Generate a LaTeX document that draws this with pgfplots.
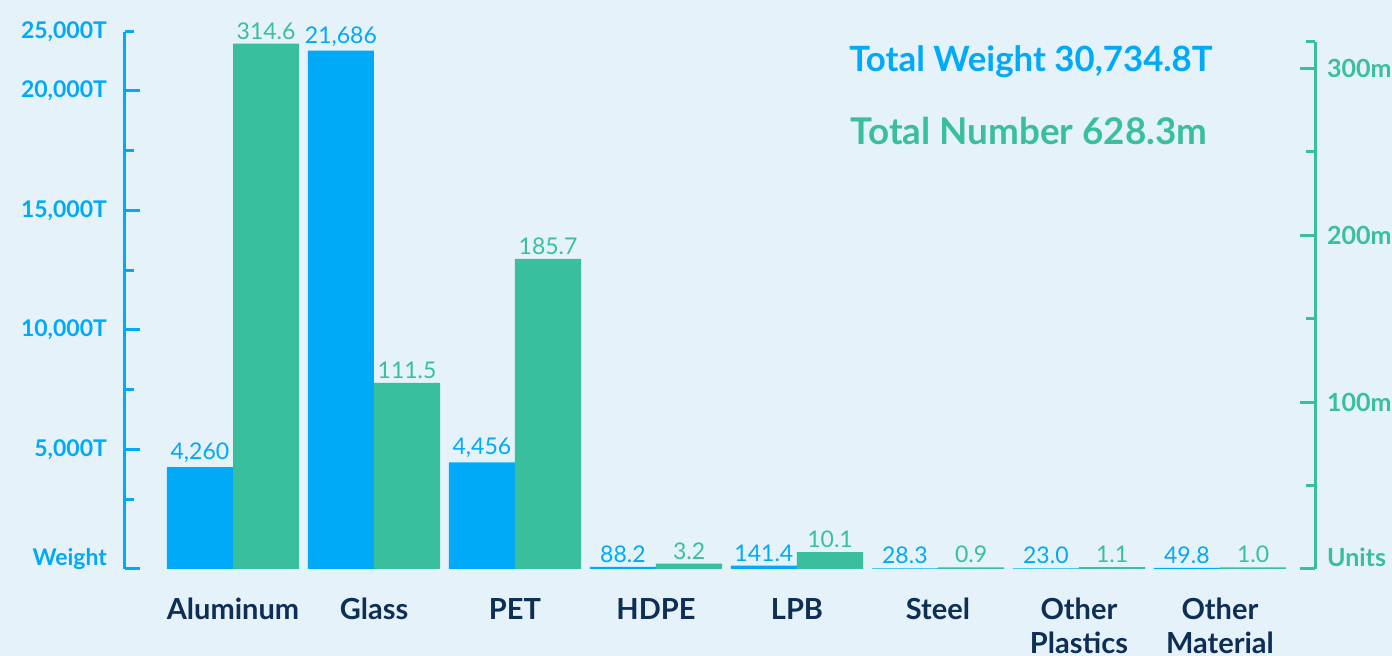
\documentclass[border=0pt]{standalone}
\usepackage{pgfplots}
\pgfplotsset{compat=1.18}
\usepackage{pgfplotstable}
\usepackage{fontspec}
\setmainfont{Lato}
\definecolor{bg}{HTML}{E6F2FA}
\definecolor{wblue}{HTML}{00AAF8}
\definecolor{ngreen}{HTML}{3ABF9C}
\definecolor{navy}{HTML}{0E2F55}

\pgfplotstableread{
x y label
0 4260 {4,260}
1 21686 {21,686}
2 4456 {4,456}
3 88.2 88.2
4 141.4 141.4
5 28.3 28.3
6 23.0 23.0
7 49.8 49.8
}\wtab

\pgfplotstableread{
x y label
0 314.6 314.6
1 111.5 111.5
2 185.7 185.7
3 3.2 3.2
4 10.1 10.1
5 0.9 0.9
6 1.1 1.1
7 1.0 1.0
}\ntab

\pgfplotsset{
  common/.style={
    at={(62.5pt,43.5pt)}, anchor=south west,
    scale only axis, width=595pt,
    xmin=-0.766, xmax=7.674, ymin=0,
    clip=false, scaled y ticks=false,
  },
  lefty/.style={height=268.5pt, ymax=22469},
  righty/.style={height=263.5pt, ymax=315.6},
}

\begin{document}
\begin{tikzpicture}
\path[use as bounding box, fill=bg] (0,0) rectangle (696pt,328pt);

% left axis with blue bars
\begin{axis}[
  common, lefty,
  axis y line*=left, axis x line*=bottom,
  x axis line style={draw=none},
  y axis line style={wblue, line width=1.5pt},
  xtick={0,...,7},
  xticklabels={Aluminum,Glass,PET,HDPE,LPB,Steel,{Other\\Plastics},{Other\\Material}},
  xticklabel style={align=center, text=navy, font=\bfseries\fontsize{14.5}{17}\selectfont, anchor=north, yshift=-11pt},
  x tick style={draw=none},
  tick align=inside,
  major tick length=7.5pt, minor tick length=4.5pt,
  ytick={0,5000,10000,15000,20000},
  yticklabels={{\raisebox{12pt}{Weight}},{5{,}000T},{10{,}000T},{15{,}000T},{20{,}000T}},
  minor ytick={2890,7500,12500,17500},
  extra y ticks={22469}, extra y tick labels={25{,}000T},
  extra y tick style={major tick length=4.5pt},
  ytick style={wblue, line width=1.5pt},
  yticklabel style={text=wblue, font=\bfseries\fontsize{11.5}{13}\selectfont, xshift=-5.5pt},
]
\addplot[ybar, bar width=33.1pt, bar shift=-16.55pt, fill=wblue, draw=none]
  table[x=x, y=y]{\wtab};
\end{axis}

% right axis with green bars and labels
\begin{axis}[
  common, righty,
  axis y line*=right, axis x line=none,
  y axis line style={ngreen, line width=1.5pt},
  tick align=inside,
  major tick length=7.5pt, minor tick length=4.5pt,
  ytick={0,100,200,300},
  yticklabels={{\raisebox{12pt}{Units}},100m,200m,300m},
  minor ytick={50,150,250},
  extra y ticks={315.6}, extra y tick labels={},
  extra y tick style={major tick length=4.5pt},
  ytick style={ngreen, line width=1.5pt},
  yticklabel style={text=ngreen, font=\bfseries\fontsize{12.5}{14}\selectfont, xshift=2.5pt},
]
\addplot[ybar, bar width=33.1pt, bar shift=16.55pt, fill=ngreen, draw=none,
  nodes near coords, point meta=explicit symbolic,
  nodes near coords style={text=ngreen, font=\fontsize{11.5}{13}\selectfont, inner sep=2pt, xshift=16.55pt}]
  table[x=x, y=y, meta=label]{\ntab};
\end{axis}

% blue labels on top
\begin{axis}[common, lefty, hide axis]
\addplot[ybar, bar width=33.1pt, bar shift=-16.55pt, fill=none, draw=none,
  nodes near coords, point meta=explicit symbolic,
  nodes near coords style={text=wblue, font=\fontsize{11.5}{13}\selectfont, inner sep=2pt, xshift=-16.55pt}]
  table[x=x, y=y, meta=label]{\wtab};
\end{axis}

\node[text=wblue, font=\bfseries\fontsize{17.4}{20}\selectfont] at (515.5pt,297pt) {Total Weight 30,734.8T};
\node[text=ngreen, font=\bfseries\fontsize{18.4}{21}\selectfont] at (514.5pt,262.5pt) {Total Number 628.3m};
\end{tikzpicture}
\end{document}
